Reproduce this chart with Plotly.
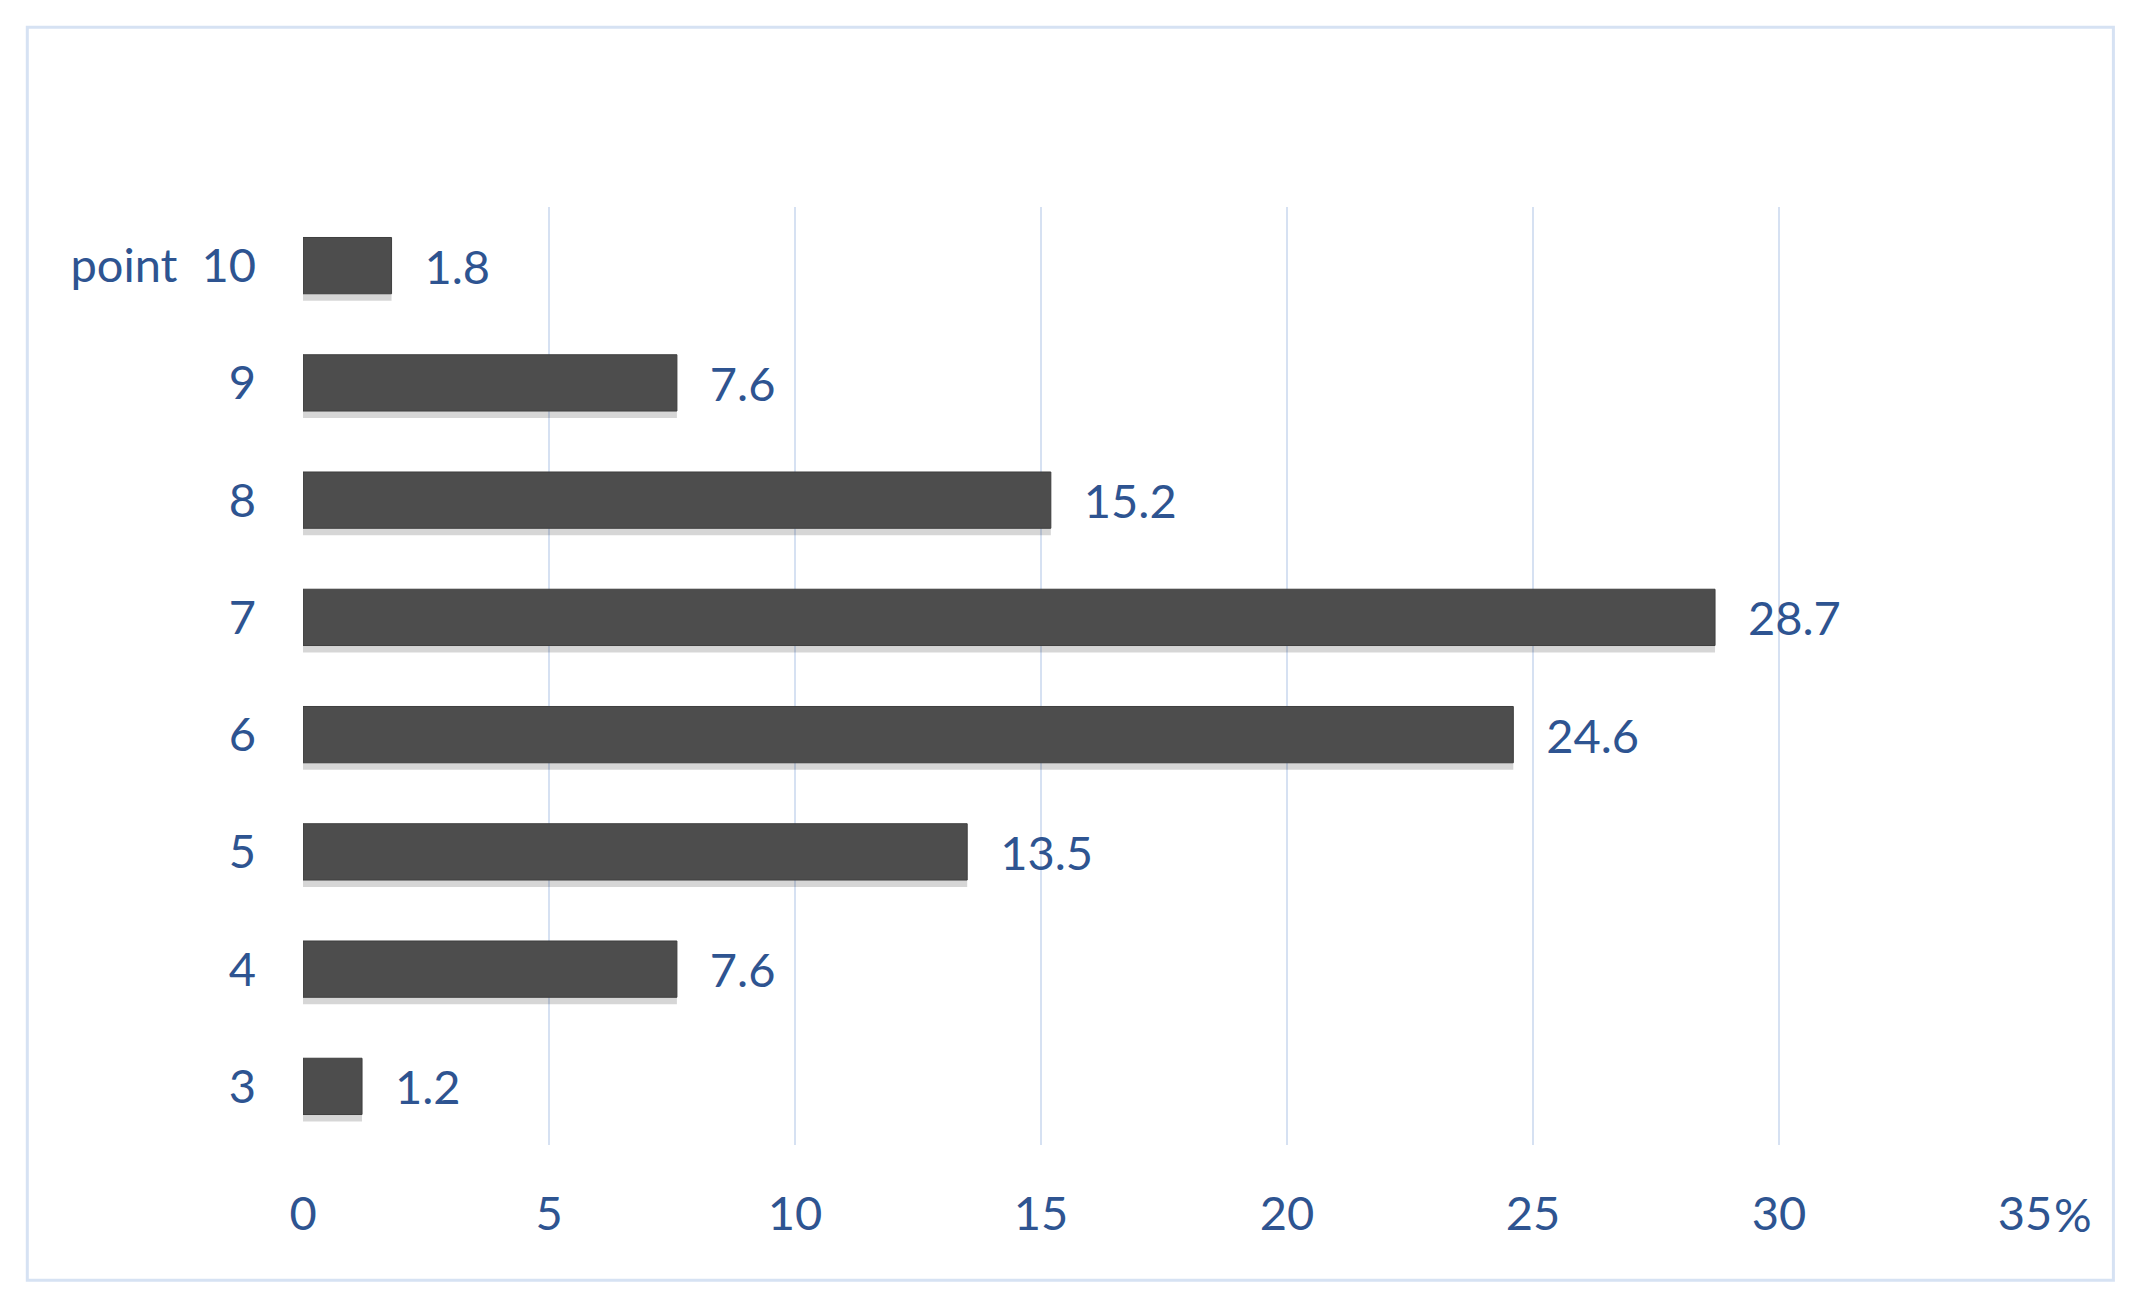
import plotly.graph_objects as go

# Data
categories = ["3", "4", "5", "6", "7", "8", "9", "point\u00a0\u00a010"]
values = [1.2, 7.6, 13.5, 24.6, 28.7, 15.2, 7.6, 1.8]
x_tick_vals = [0, 5, 10, 15, 20, 25, 30, 35]
x_tick_text = ["0", "5", "10", "15", "20", "25", "30", "35"]

TEXT_COLOR = "#2e5491"
FONT = "Lato, Open Sans, sans-serif"
FS = 47

fig = go.Figure()

# soft shadow under bars
fig.add_trace(go.Bar(
    x=values, y=categories, orientation="h",
    width=0.48, offset=-0.30,
    marker=dict(color="rgba(0,0,0,0.16)", line=dict(width=0)),
    hoverinfo="skip", showlegend=False,
))

fig.add_trace(go.Bar(
    x=values, y=categories, orientation="h",
    width=0.48, offset=-0.24,
    marker=dict(color="#4d4d4d", line=dict(color="#3f3f3f", width=1)),
    text=[f"{v}" for v in values],
    texttemplate="\u00a0\u00a0\u2009%{text}",
    textposition="outside",
    cliponaxis=False,
    textfont=dict(family=FONT, size=FS, color=TEXT_COLOR),
    showlegend=False,
))

# page body has an 8px margin; figure coordinates are page coordinates - 8
W, H = 2130, 1304
L, T = 295, 199
plot_right, plot_bottom = 2017, 1137
R, B = W - plot_right, H - plot_bottom
pw = plot_right - L
ph = plot_bottom - T

bx0, bx1, by0, by1 = 19.3, 2105.4, 19.3, 1272.3

fig.update_layout(
    width=W, height=H,
    margin=dict(l=L, r=R, t=T, b=B),
    paper_bgcolor="white", plot_bgcolor="white",
    barmode="overlay",
    font=dict(family=FONT, size=FS, color=TEXT_COLOR),
    xaxis=dict(
        range=[0, 35], tickvals=x_tick_vals, ticktext=x_tick_text,
        showgrid=True, gridcolor="#d6e1f2", gridwidth=2,
        zeroline=False, showline=False, ticks="",
        ticklabelstandoff=37,
        tickfont=dict(family=FONT, size=FS, color=TEXT_COLOR),
    ),
    yaxis=dict(
        range=[-0.5, 7.5], showgrid=False, zeroline=False, showline=False,
        ticks="", ticklabelstandoff=46,
        tickfont=dict(family=FONT, size=FS, color=TEXT_COLOR),
    ),
    shapes=[
        dict(type="rect", xref="paper", yref="paper",
             x0=(bx0 - L) / pw, x1=(bx1 - L) / pw,
             y0=(plot_bottom - by1) / ph, y1=(plot_bottom - by0) / ph,
             line=dict(color="#d6e2f3", width=3), fillcolor="rgba(0,0,0,0)",
             layer="below"),
    ],
    annotations=[
        dict(text="%", x=35, xref="x", y=0, yref="paper",
             xanchor="left", yanchor="top", xshift=27, yshift=-39,
             showarrow=False, font=dict(family=FONT, size=FS, color=TEXT_COLOR)),
    ],
)

fig.write_html("out.html")
